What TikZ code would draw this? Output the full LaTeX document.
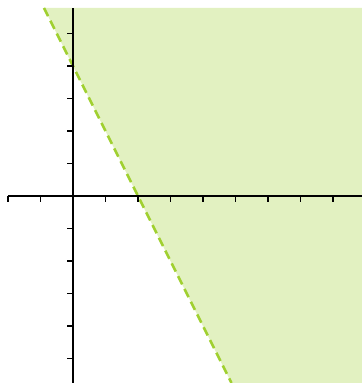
\documentclass[tikz,border=0pt]{standalone}
\definecolor{relleno}{RGB}{226,241,193}
\definecolor{frontera}{RGB}{160,208,48}
\begin{document}
\begin{tikzpicture}[scale=1]
    \useasboundingbox (-2.246,-5.754) rectangle (8.892,6.031);
    \clip (-2.246,-5.754) rectangle (8.892,6.031);

    % Semiplano 2x + y > 4
    \fill[relleno] (-0.893,5.785) -- (8.892,5.785) -- (8.892,-5.754) -- (4.877,-5.754) -- cycle;

    % Recta frontera (no incluida)
    \draw[frontera, line width=2.3pt, dash pattern=on 8pt off 4.5pt] (-0.893,5.785) -- (4.877,-5.754);

    % Ejes
    \draw[line width=1.4pt] (-2,0) -- (8.892,0);
    \draw[line width=1.4pt] (0,-5.754) -- (0,5.785);

    % Marcas
    \foreach \x in {-2,-1,1,2,3,4,5,6,7,8}
        \draw[line width=1.4pt] (\x,0) -- (\x,-0.18);
    \foreach \y in {-5,-4,-3,-2,-1,1,2,3,4,5}
        \draw[line width=1.4pt] (0,\y) -- (-0.18,\y);
\end{tikzpicture}
\end{document}
